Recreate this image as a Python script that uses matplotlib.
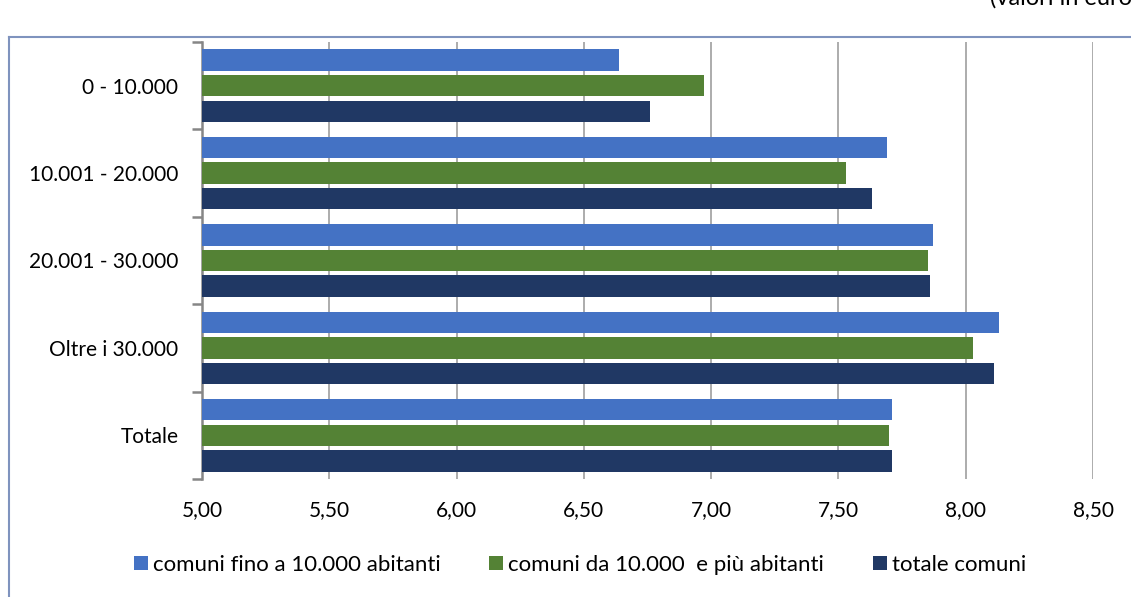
import matplotlib
matplotlib.use("Agg")
import matplotlib.pyplot as plt
import numpy as np
from matplotlib.patches import Patch
from matplotlib.lines import Line2D

categories = ["0 - 10.000", "10.001 - 20.000", "20.001 - 30.000", "Oltre i 30.000", "Totale"]
series_names = ["comuni fino a 10.000 abitanti", "comuni da 10.000  e più abitanti", "totale comuni"]
fino_10000 = [6.64, 7.69, 7.87, 8.13, 7.71]
da_10000 = [6.97, 7.53, 7.85, 8.03, 7.70]
totale = [6.76, 7.63, 7.86, 8.11, 7.71]
x_ticks = [5.00, 5.50, 6.00, 6.50, 7.00, 7.50, 8.00, 8.50]
colors = ["#4472C4", "#548235", "#203864"]

plt.rcParams['font.family'] = ['Lato', 'DejaVu Sans']
FS = 15

W, H = 1131, 597
fig = plt.figure(figsize=(W / 100, H / 100), dpi=100)
ax = fig.add_axes([202 / W, 1 - 479 / H, (1093 - 202) / W, (479 - 42) / H])

n = len(categories)
y = np.arange(n)
offsets = [-0.293, 0.0, 0.293]
bh = 0.245
for vals, off, c in zip([fino_10000, da_10000, totale], offsets, colors):
    ax.barh(y + off, vals, height=bh, color=c, left=0, zorder=3)

ax.set_xlim(5.0, 8.5)
ax.set_ylim(n - 0.5, -0.5)
ax.set_xticks(x_ticks)
ax.set_xticklabels([f"{v:.2f}".replace(".", ",") for v in x_ticks], fontsize=FS)
ax.tick_params(axis="x", length=0, pad=15)
ax.grid(axis="x", color="#A6A6A6", linewidth=1.3, zorder=0)

ax.set_yticks(y)
ax.set_yticklabels(categories, fontsize=FS)
ax.tick_params(axis="y", length=0, pad=17)
ax.set_yticks(np.arange(n + 1) - 0.5, minor=True)
ax.tick_params(axis="y", which="minor", length=7, width=1.8, color="#868686", direction="out")

for s in ["top", "right", "bottom"]:
    ax.spines[s].set_visible(False)
ax.spines["left"].set_color("#868686")
ax.spines["left"].set_linewidth(1.8)
ax.set_axisbelow(True)

# chart border
fig.add_artist(Line2D([9 / W, 9 / W], [0, 1 - 37 / H], transform=fig.transFigure, color="#7F93BE", linewidth=1.5))
fig.add_artist(Line2D([9 / W, 1.0], [1 - 37 / H, 1 - 37 / H], transform=fig.transFigure, color="#7F93BE", linewidth=1.5))

fig.text(990 / W, 1 - 5 / H, "(valori in euro)", fontsize=17, ha="left", va="baseline")

handles = [Patch(facecolor=c, edgecolor="none") for c in colors]
fig.legend(handles, series_names, loc="center", bbox_to_anchor=(580 / W, 1 - 565 / H),
           ncol=3, frameon=False, fontsize=16, handlelength=0.63, handleheight=0.63,
           handletextpad=0.22, columnspacing=2.2, borderpad=0, borderaxespad=0)

fig.savefig("out.png", dpi=100)
